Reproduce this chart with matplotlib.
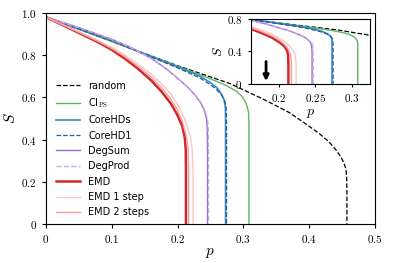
import numpy as np
import matplotlib
matplotlib.use("Agg")
import matplotlib.pyplot as plt
from matplotlib.ticker import FuncFormatter

plt.rcParams['mathtext.fontset'] = 'cm'

# curves: (p, S)
random_p = [0, 0.1, 0.2, 0.28, 0.33, 0.37, 0.396, 0.415, 0.43, 0.44, 0.448, 0.453, 0.456, 0.4572, 0.4575, 0.4575]
random_s = [0.98, 0.865, 0.75, 0.665, 0.592, 0.528, 0.472, 0.43, 0.39, 0.355, 0.32, 0.29, 0.26, 0.22, 0.15, 0]

cips_p = [0, 0.1, 0.2, 0.25, 0.275, 0.29, 0.298, 0.303, 0.306, 0.3078, 0.3085, 0.3085]
cips_s = [0.98, 0.864, 0.748, 0.688, 0.655, 0.628, 0.605, 0.58, 0.555, 0.53, 0.49, 0]

corehds_p = [0, 0.05, 0.1, 0.15, 0.2, 0.234, 0.25, 0.26, 0.267, 0.271, 0.2728, 0.273, 0.273]
corehds_s = [0.98, 0.925, 0.87, 0.806, 0.745, 0.70, 0.67, 0.645, 0.615, 0.585, 0.55, 0.48, 0]

corehd1_p = [0, 0.05, 0.1, 0.15, 0.2, 0.234, 0.25, 0.26, 0.267, 0.2715, 0.274, 0.2745, 0.2745]
corehd1_s = [0.98, 0.924, 0.868, 0.803, 0.74, 0.692, 0.66, 0.635, 0.61, 0.585, 0.55, 0.48, 0]

degsum_p = [0, 0.05, 0.1, 0.13, 0.16, 0.183, 0.2, 0.215, 0.228, 0.236, 0.241, 0.244, 0.2452, 0.2455, 0.2455]
degsum_s = [0.98, 0.93, 0.875, 0.835, 0.785, 0.735, 0.69, 0.65, 0.605, 0.57, 0.535, 0.50, 0.45, 0.35, 0]

degprod_p = [0, 0.05, 0.1, 0.13, 0.16, 0.184, 0.201, 0.216, 0.229, 0.237, 0.242, 0.2455, 0.2467, 0.247, 0.247]
degprod_s = [0.98, 0.93, 0.874, 0.834, 0.784, 0.733, 0.688, 0.648, 0.603, 0.568, 0.533, 0.498, 0.45, 0.35, 0]

emd_p = [0, 0.02, 0.04, 0.06, 0.08, 0.1, 0.12, 0.14, 0.16, 0.175, 0.19, 0.2, 0.207, 0.211, 0.2125, 0.2128, 0.2128]
emd_s = [0.98, 0.95, 0.92, 0.89, 0.86, 0.825, 0.783, 0.735, 0.68, 0.63, 0.57, 0.515, 0.465, 0.41, 0.35, 0.25, 0]

emd1_p = [0, 0.02, 0.04, 0.06, 0.08, 0.1, 0.12, 0.14, 0.16, 0.175, 0.19, 0.204, 0.213, 0.219, 0.222, 0.2235, 0.2235]
emd1_s = [0.98, 0.952, 0.925, 0.897, 0.868, 0.837, 0.8, 0.758, 0.71, 0.665, 0.615, 0.545, 0.48, 0.42, 0.36, 0.25, 0]

emd2_p = [0, 0.02, 0.04, 0.06, 0.08, 0.1, 0.12, 0.14, 0.16, 0.175, 0.19, 0.2, 0.208, 0.213, 0.216, 0.217, 0.217]
emd2_s = [0.98, 0.951, 0.922, 0.893, 0.864, 0.831, 0.792, 0.747, 0.695, 0.648, 0.59, 0.54, 0.48, 0.42, 0.36, 0.25, 0]

curves = [
    (random_p, random_s, 'random', dict(color='black', ls='--', lw=0.9)),
    (cips_p, cips_s, r'CI$_\mathrm{PS}$', dict(color='#5cb85c', lw=1.0)),
    (corehds_p, corehds_s, 'CoreHDs', dict(color='#3a8ac9', lw=1.2)),
    (corehd1_p, corehd1_s, 'CoreHD1', dict(color='#1f5f9f', ls='--', lw=0.9)),
    (degsum_p, degsum_s, 'DegSum', dict(color='#9a6bd0', lw=1.0)),
    (degprod_p, degprod_s, 'DegProd', dict(color='#c8a8ea', ls='--', lw=1.0)),
    (emd_p, emd_s, 'EMD', dict(color='#d62728', lw=1.8)),
    (emd1_p, emd1_s, 'EMD 1 step', dict(color='#f8c8c8', lw=1.0)),
    (emd2_p, emd2_s, 'EMD 2 steps', dict(color='#f2a0a0', lw=1.0)),
]


def tick_fmt(v, pos):
    if abs(v) < 1e-9:
        return '$0$'
    if abs(v - 1) < 1e-9:
        return '$1.0$'
    return '$%g$' % round(v, 3)


fmt = FuncFormatter(tick_fmt)

fig = plt.figure(figsize=(3.95, 2.63), dpi=100)
ax = fig.add_axes([0.1165, 0.148, 0.8325, 0.803])
for p, s, lab, kw in curves:
    ax.plot(p, s, label=lab, **kw)
ax.set_xlim(0, 0.5)
ax.set_ylim(0, 1.0)
ax.set_xticks([0, 0.1, 0.2, 0.3, 0.4, 0.5])
ax.set_yticks([0, 0.2, 0.4, 0.6, 0.8, 1.0])
ax.xaxis.set_major_formatter(fmt)
ax.yaxis.set_major_formatter(fmt)
ax.tick_params(labelsize=8, length=3, width=0.8)
ax.set_xlabel('$p$', fontsize=11, labelpad=0)
ax.set_ylabel('$S$', fontsize=11, labelpad=2)
ax.legend(loc='lower left', bbox_to_anchor=(0.01, 0.0), frameon=False,
          fontsize=7, handlelength=2.5, labelspacing=0.55, borderaxespad=0.3)

ins = fig.add_axes([0.635, 0.681, 0.301, 0.247])
for p, s, lab, kw in curves:
    ins.plot(p, s, **kw)
ins.set_xlim(0.161, 0.325)
ins.set_ylim(0, 0.8)
ins.set_xticks([0.2, 0.25, 0.3])
ins.set_yticks([0, 0.4, 0.8])
ins.xaxis.set_major_formatter(fmt)
ins.yaxis.set_major_formatter(fmt)
ins.tick_params(labelsize=8, length=2.5, width=0.8)
ins.set_xlabel('$p$', fontsize=10, labelpad=1)
ins.set_ylabel('$S$', fontsize=10, labelpad=1)
ins.annotate('', xy=(0.182, 0.0), xytext=(0.182, 0.31),
             arrowprops=dict(arrowstyle='-|>', color='black', lw=2, mutation_scale=8))

fig.savefig('out.png', dpi=100)
